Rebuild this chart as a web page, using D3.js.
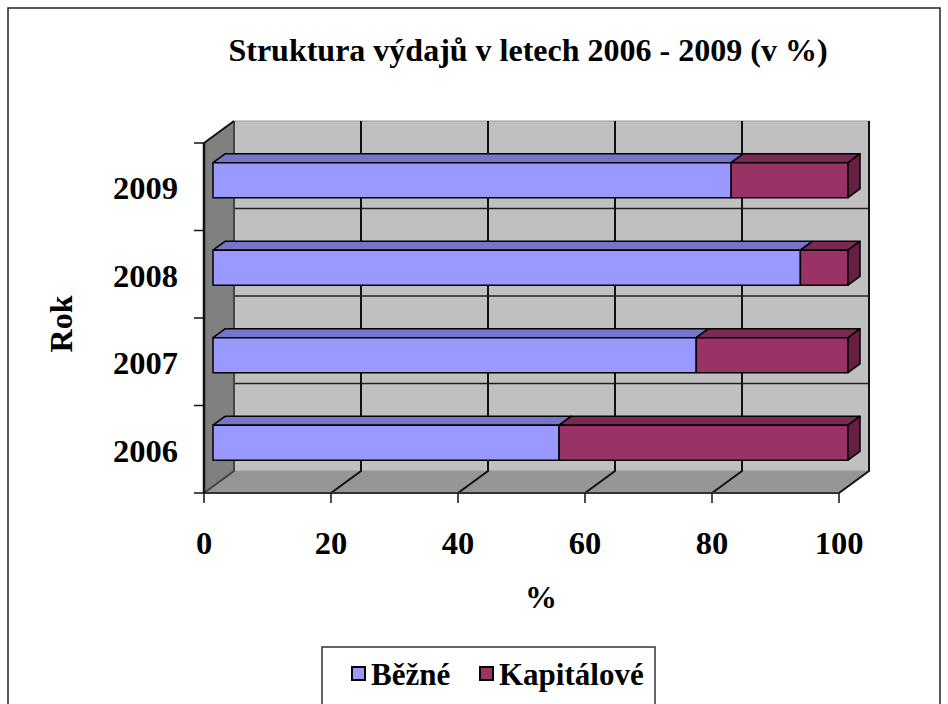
<!DOCTYPE html>
<html>
  <head>
    <meta charset="utf-8">
    <title></title>
    <style>
      body {
        margin: 0;
        background: #fff;
      }
      svg {
        display: block;
        font-family: "Liberation Serif", "Times New Roman", serif;
        font-weight: bold;
      }
    </style>
  </head>
  <body>
    <svg width="948" height="704"></svg>
    <script src="https://cdn.jsdelivr.net/npm/d3@7"></script>
    <script>

      let years = ["2009", "2008", "2007", "2006"];
      let bezne = [81.6, 92.5, 76.1, 54.5];
      let kapitalove = [18.4, 7.5, 23.9, 45.5];
      let xTicks = [0, 20, 40, 60, 80, 100];
      let seriesNames = ["Běžné", "Kapitálové"];

      let svg = d3.select("svg");

      // frame round the whole chart
      svg.append("rect")
        .attr("x", 8).attr("y", 8)
        .attr("width", 932).attr("height", 720)
        .attr("fill", "none")
        .attr("stroke", "#222")
        .attr("stroke-width", 1.5);

      let x = d3.scaleLinear().domain([0, 100]).range([204, 839]);
      let y = d3.scaleBand().domain(years).range([143, 493])
        .paddingInner(0.6).paddingOuter(0.3);

      // depth of the 3d box
      let DX = 30, DY = -22;
      function p(v, yy, z) {
        return [x(v) + z * DX, yy + z * DY];
      }
      function poly(pts) {
        return "M" + pts.map(d => d.join(",")).join("L") + "Z";
      }

      let yTop = y.range()[0], yBottom = y.range()[1];
      let bounds = [yTop].concat(years.map(d => y(d) - y.step() * y.paddingInner() / 2).slice(1), [yBottom]);

      // walls
      svg.append("path")
        .attr("d", poly([p(0, yTop, 0), p(0, yTop, 1), p(0, yBottom, 1), p(0, yBottom, 0)]))
        .attr("fill", "#808080");

      svg.append("path")
        .attr("d", poly([p(0, yTop, 1), p(100, yTop, 1), p(100, yBottom, 1), p(0, yBottom, 1)]))
        .attr("fill", "#c0c0c0")
        .attr("stroke", "#999")
        .attr("stroke-width", 1);

      svg.append("path")
        .attr("d", poly([p(0, yBottom, 0), p(0, yBottom, 1), p(100, yBottom, 1), p(100, yBottom, 0)]))
        .attr("fill", "#969696");

      // category gridlines on the back wall
      svg.selectAll(".cgrid")
        .data(bounds.slice(1, -1))
        .join("line")
        .attr("class", "cgrid")
        .attr("x1", d => p(0, d, 1)[0]).attr("y1", d => p(0, d, 1)[1])
        .attr("x2", d => p(100, d, 1)[0]).attr("y2", d => p(100, d, 1)[1])
        .attr("stroke", "#222")
        .attr("stroke-width", 1.5);

      // value gridlines: back wall and floor
      svg.selectAll(".vgrid")
        .data(xTicks)
        .join("path")
        .attr("class", "vgrid")
        .attr("d", d => "M" + p(d, yTop, 1) + "L" + p(d, yBottom, 1) + "L" + p(d, yBottom, 0))
        .attr("fill", "none")
        .attr("stroke", d => d === 0 ? "#444" : "#111")
        .attr("stroke-width", 2);

      // left wall top edge and axis
      svg.append("path")
        .attr("d", "M" + p(0, yTop, 0) + "L" + p(0, yTop, 1))
        .attr("stroke", "#111").attr("stroke-width", 2);

      svg.append("line")
        .attr("x1", x(0)).attr("x2", x(100))
        .attr("y1", yBottom).attr("y2", yBottom)
        .attr("stroke", "#333").attr("stroke-width", 2);

      svg.selectAll(".xtick")
        .data(xTicks)
        .join("line")
        .attr("class", "xtick")
        .attr("x1", d => x(d)).attr("x2", d => x(d))
        .attr("y1", yBottom).attr("y2", yBottom + 10)
        .attr("stroke", "#111").attr("stroke-width", 1.5);

      svg.append("line")
        .attr("x1", x(0)).attr("x2", x(0))
        .attr("y1", yTop).attr("y2", yBottom)
        .attr("stroke", "#111").attr("stroke-width", 2.5);

      svg.selectAll(".ytick")
        .data(bounds)
        .join("line")
        .attr("class", "ytick")
        .attr("x1", x(0) - 10).attr("x2", x(0))
        .attr("y1", d => d).attr("y2", d => d)
        .attr("stroke", "#111").attr("stroke-width", 1.5);

      // bars
      let colors = [
        {front: "#9999ff", top: "#7575c9", side: "#5c5ca3"},
        {front: "#993366", top: "#7a2952", side: "#661f42"}
      ];
      let z0 = 0.3, z1 = 0.7;

      years.forEach((yr, i) => {
        let y0 = y(yr), y1 = y(yr) + y.bandwidth();
        let segs = [[0, bezne[i]], [bezne[i], bezne[i] + kapitalove[i]]];
        let g = svg.append("g")
          .attr("stroke", "#000")
          .attr("stroke-width", 1.5)
          .attr("stroke-linejoin", "round");
        segs.forEach((s, j) => {
          g.append("path")
            .attr("d", poly([p(s[0], y0, z0), p(s[0], y0, z1), p(s[1], y0, z1), p(s[1], y0, z0)]))
            .attr("fill", colors[j].top);
          g.append("path")
            .attr("d", poly([p(s[0], y0, z0), p(s[1], y0, z0), p(s[1], y1, z0), p(s[0], y1, z0)]))
            .attr("fill", colors[j].front);
          if (j === segs.length - 1) {
            g.append("path")
              .attr("d", poly([p(s[1], y0, z0), p(s[1], y0, z1), p(s[1], y1, z1), p(s[1], y1, z0)]))
              .attr("fill", colors[j].side);
          }
        });
      });

      // axis labels
      svg.selectAll(".ylabel")
        .data(years)
        .join("text")
        .attr("class", "ylabel")
        .attr("x", 178)
        .attr("y", d => y(d) + y.bandwidth() / 2 + 1)
        .attr("dy", "0.35em")
        .attr("text-anchor", "end")
        .attr("font-size", 32.5)
        .text(d => d);

      svg.selectAll(".xlabel")
        .data(xTicks)
        .join("text")
        .attr("class", "xlabel")
        .attr("x", d => x(d))
        .attr("y", 543)
        .attr("dy", "0.35em")
        .attr("text-anchor", "middle")
        .attr("font-size", 32.5)
        .text(d => d);

      svg.append("text")
        .attr("x", 541).attr("y", 597)
        .attr("dy", "0.35em")
        .attr("text-anchor", "middle")
        .attr("font-size", 32)
        .text("%");

      svg.append("text")
        .attr("transform", "translate(61,324) rotate(-90)")
        .attr("dy", "0.35em")
        .attr("text-anchor", "middle")
        .attr("font-size", 32)
        .text("Rok");

      svg.append("text")
        .attr("x", 528).attr("y", 50)
        .attr("dy", "0.35em")
        .attr("text-anchor", "middle")
        .attr("font-size", 32)
        .text("Struktura výdajů v letech 2006 - 2009 (v %)");

      // legend
      let legend = svg.append("g");
      legend.append("rect")
        .attr("x", 322).attr("y", 647)
        .attr("width", 333).attr("height", 80)
        .attr("fill", "#fff")
        .attr("stroke", "#333")
        .attr("stroke-width", 1.5);

      let legendX = [352, 480];
      seriesNames.forEach((name, i) => {
        legend.append("rect")
          .attr("x", legendX[i]).attr("y", 667)
          .attr("width", 13).attr("height", 13)
          .attr("fill", colors[i].front)
          .attr("stroke", "#000")
          .attr("stroke-width", 2);
        legend.append("text")
          .attr("x", legendX[i] + 19).attr("y", 685)
          .attr("font-size", 31)
          .text(name);
      });

    </script>
  </body>
</html>
